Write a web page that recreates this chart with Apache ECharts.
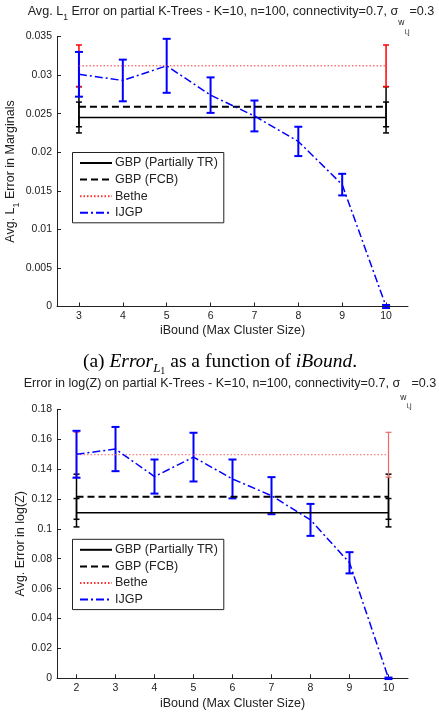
<!DOCTYPE html>
<html>
<head>
<meta charset="utf-8">
<title>Error on partial K-Trees vs iBound</title>
<script src="https://cdn.jsdelivr.net/npm/echarts@6.0.0/dist/echarts.min.js"></script>
<style>
html, body { margin: 0; padding: 0; background: #fff; }
#chart { width: 439px; height: 723px; }
</style>
</head>
<body>
<div id="chart"></div>
<script>
// ---- top panel: Avg. L1 error in marginals ----
var l1Bound   = [3, 4, 5, 6, 7, 8, 9, 10];
var l1Ijgp    = [0.0301, 0.0293, 0.0312, 0.0274, 0.0247, 0.0214, 0.0158, 0.0000];
var l1IjgpErr = [0.0029, 0.0027, 0.0035, 0.0023, 0.0020, 0.0019, 0.0014, 0.0002];
var l1Ends    = [3, 10];
var l1GbpTR   = [0.0245, 0.0245];
var l1GbpTRErr  = [0.0020, 0.0020];
var l1GbpFCB  = [0.0259, 0.0259];
var l1GbpFCBErr = [0.0026, 0.0026];
var l1Bethe   = [0.0312, 0.0312];
var l1BetheErr  = [0.0027, 0.0027];

// ---- bottom panel: error in log(Z) ----
var zBound   = [2, 3, 4, 5, 6, 7, 8, 9, 10];
var zIjgp    = [0.1499, 0.1534, 0.1350, 0.1480, 0.1334, 0.1222, 0.1060, 0.0773, 0.0000];
var zIjgpErr = [0.0157, 0.0148, 0.0114, 0.0163, 0.0130, 0.0124, 0.0107, 0.0071, 0.0005];
var zEnds    = [2, 10];
var zGbpTR   = [0.1108, 0.1108];
var zGbpTRErr  = [0.0095, 0.0095];
var zGbpFCB  = [0.1215, 0.1215];
var zGbpFCBErr = [0.0151, 0.0151];
var zBethe   = [0.1496, 0.1496];
var zBetheErr  = [0.0150, 0.0150];

var names = ['GBP (Partially TR)', 'GBP (FCB)', 'Bethe', 'IJGP'];

var SANS = '"Liberation Sans", Arial, Helvetica, sans-serif';
var SERIF = '"Liberation Serif", "Times New Roman", serif';
var INK = '#222';

var myChart = echarts.init(document.getElementById('chart'));

function pairs(xs, ys) {
    return xs.map(function (x, i) { return [x, ys[i]]; });
}

function lineSeries(name, idx, xs, ys, color, width, type) {
    return {
        name: name, type: 'line', xAxisIndex: idx, yAxisIndex: idx,
        data: pairs(xs, ys), symbol: 'none', silent: true,
        lineStyle: { color: color, width: width, type: type }
    };
}

// vertical error bars with caps
function errSeries(name, idx, xs, ys, errs, color, width, cap) {
    return {
        name: name, type: 'custom', xAxisIndex: idx, yAxisIndex: idx, silent: true,
        encode: { x: 0, y: [1, 2] },
        data: xs.map(function (x, i) { return [x, ys[i] - errs[i], ys[i] + errs[i]]; }),
        renderItem: function (params, api) {
            var lo = api.coord([api.value(0), api.value(1)]);
            var hi = api.coord([api.value(0), api.value(2)]);
            var st = { stroke: color, lineWidth: width };
            return {
                type: 'group',
                children: [
                    { type: 'line', shape: { x1: lo[0], y1: lo[1], x2: hi[0], y2: hi[1] }, style: st },
                    { type: 'line', shape: { x1: lo[0] - cap, y1: lo[1], x2: lo[0] + cap, y2: lo[1] }, style: st },
                    { type: 'line', shape: { x1: hi[0] - cap, y1: hi[1], x2: hi[0] + cap, y2: hi[1] }, style: st }
                ]
            };
        }
    };
}

function xAxisFor(idx, min, ticks, gap) {
    return {
        gridIndex: idx, type: 'value', min: min, max: 10.5,
        name: 'iBound (Max Cluster Size)', nameLocation: 'middle', nameGap: gap,
        nameMoveOverlap: false,
        nameTextStyle: { fontFamily: SANS, fontSize: 12.5, color: INK },
        axisLine: { show: true, onZero: false, lineStyle: { color: INK, width: 1 } },
        axisTick: { show: true, inside: true, length: 4, customValues: ticks, lineStyle: { color: INK } },
        axisLabel: { customValues: ticks, margin: 4, fontFamily: SANS, fontSize: 10.5, color: INK },
        splitLine: { show: false }
    };
}

function yAxisFor(idx, max, step, name, gap, rich) {
    return {
        gridIndex: idx, type: 'value', min: 0, max: max, interval: step,
        name: name, nameLocation: 'middle', nameGap: gap, nameRotate: 90,
        nameMoveOverlap: false,
        nameTextStyle: { fontFamily: SANS, fontSize: 12.5, color: INK, rich: rich },
        axisLine: { show: true, lineStyle: { color: INK, width: 1 } },
        axisTick: { show: true, inside: true, length: 4, lineStyle: { color: INK } },
        axisLabel: { margin: 5, fontFamily: SANS, fontSize: 10.5, color: INK },
        splitLine: { show: false }
    };
}

function legendFor(top) {
    return {
        data: names, orient: 'vertical', left: 72.5, top: top,
        itemWidth: 32, itemHeight: 14, itemGap: 3.6, padding: [4, 6, 3.5, 6.5],
        borderColor: INK, borderWidth: 1, borderRadius: 0, backgroundColor: '#fff',
        selectedMode: false, itemStyle: { opacity: 0 },
        textStyle: { fontFamily: SANS, fontSize: 12.5, color: INK, padding: [0, 0, 0, -2] }
    };
}

var subRich = {
    m: { fontFamily: SANS, fontSize: 12.5, color: INK },
    s: { fontFamily: SANS, fontSize: 9, color: INK, padding: [12, 0, 0, 0] }
};

var series = [
    lineSeries(names[0], 0, l1Ends, l1GbpTR, '#000', 1.5, 'solid'),
    lineSeries(names[1], 0, l1Ends, l1GbpFCB, '#000', 2, [7, 4]),
    lineSeries(names[2], 0, l1Ends, l1Bethe, '#ff3030', 1, [1.5, 2]),
    errSeries('tr-err', 0, l1Ends, l1GbpTR, l1GbpTRErr, '#000', 1.5, 3),
    errSeries('fcb-err', 0, l1Ends, l1GbpFCB, l1GbpFCBErr, '#000', 1.5, 3),
    errSeries('bethe-err', 0, l1Ends, l1Bethe, l1BetheErr, '#ff0000', 1.5, 3),
    lineSeries(names[3], 0, l1Bound, l1Ijgp, '#0000ff', 1.5, [8, 3, 2, 3]),
    errSeries('ijgp-err', 0, l1Bound, l1Ijgp, l1IjgpErr, '#0000ff', 2, 4),

    lineSeries(names[0], 1, zEnds, zGbpTR, '#000', 1.5, 'solid'),
    lineSeries(names[1], 1, zEnds, zGbpFCB, '#000', 2, [7, 4]),
    lineSeries(names[2], 1, zEnds, zBethe, '#ff6060', 1, [1.5, 2]),
    errSeries('tr-err', 1, zEnds, zGbpTR, zGbpTRErr, '#000', 1.5, 3),
    errSeries('fcb-err', 1, zEnds, zGbpFCB, zGbpFCBErr, '#000', 1.5, 3),
    errSeries('bethe-err', 1, zEnds, zBethe, zBetheErr, '#f06a6a', 1.2, 3),
    lineSeries(names[3], 1, zBound, zIjgp, '#0000ff', 1.5, [8, 3, 2, 3]),
    errSeries('ijgp-err', 1, zBound, zIjgp, zIjgpErr, '#0000ff', 2, 4)
];

function titleRich(wPad, ijPad) {
    return {
        m: { fontFamily: SANS, fontSize: 12.6, fill: INK },
        s: { fontFamily: SANS, fontSize: 8.5, fill: INK, padding: [13, 0, 0, 0] },
        w: { fontFamily: SANS, fontSize: 8.5, fill: INK, padding: [wPad, 0, 0, 0] },
        ij: { fontFamily: SANS, fontSize: 7, fill: INK, padding: [ijPad, 0, 0, 0] }
    };
}

var option = {
    animation: false,
    backgroundColor: '#fff',
    grid: [
        { left: 57, top: 36.5, width: 351, height: 270, outerBoundsMode: 'none', containLabel: false },
        { left: 57, top: 409.3, width: 351, height: 269, outerBoundsMode: 'none', containLabel: false }
    ],
    xAxis: [xAxisFor(0, 2.5, l1Bound, 17.5), xAxisFor(1, 1.5, zBound, 19)],
    yAxis: [
        yAxisFor(0, 0.035, 0.005, '{m|Avg. L}{s|1}{m| Error in Marginals}', 36, subRich),
        yAxisFor(1, 0.18, 0.02, 'Avg. Error in log(Z)', 30, null)
    ],
    legend: [legendFor(152.5), legendFor(539.3)],
    graphic: [
        {
            type: 'text', x: 231, y: 11.5, silent: true,
            style: {
                text: '{m|Avg. L}{s|1}{m| Error on partial K-Trees - K=10, n=100, connectivity=0.7, σ}{w|w}{ij|i,j}{m|=0.3}',
                align: 'center', verticalAlign: 'middle', rich: titleRich(23, 41)
            }
        },
        {
            type: 'text', x: 220, y: 362, silent: true,
            style: {
                text: '{n|(a) }{i|Error}{l|L}{o|1}{n| as a function of }{i|iBound}{n|.}',
                align: 'center', verticalAlign: 'middle',
                rich: {
                    n: { fontFamily: SERIF, fontSize: 19.5, fill: '#000' },
                    i: { fontFamily: SERIF, fontSize: 19.5, fontStyle: 'italic', fill: '#000' },
                    l: { fontFamily: SERIF, fontSize: 13, fontStyle: 'italic', fill: '#000', padding: [13, 0, 0, 0] },
                    o: { fontFamily: SERIF, fontSize: 10, fill: '#000', padding: [18, 0, 0, 0] }
                }
            }
        },
        {
            type: 'text', x: 230, y: 383.5, silent: true,
            style: {
                text: '{m|Error in log(Z) on partial K-Trees - K=10, n=100, connectivity=0.7, σ}{w|w}{ij|i,j}{m|=0.3}',
                align: 'center', verticalAlign: 'middle', rich: titleRich(29, 46)
            }
        }
    ],
    series: series
};

myChart.setOption(option, true);
window.addEventListener('resize', function () {
    myChart.resize();
});
</script>
</body>
</html>
